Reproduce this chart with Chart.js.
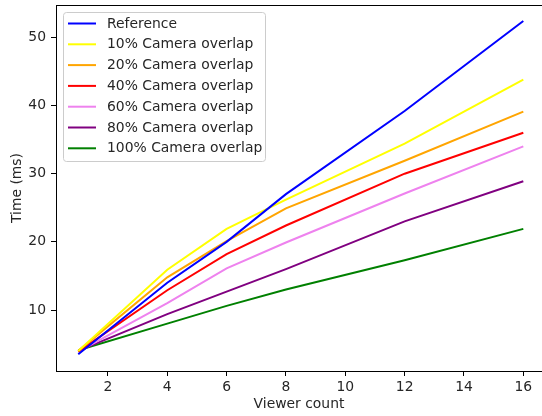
<!DOCTYPE html>
<html>
<head>
<meta charset="utf-8">
<script src="https://cdn.jsdelivr.net/npm/chart.js@4/dist/chart.umd.min.js"></script>
<style>
  html, body { margin: 0; padding: 0; background: #fff; overflow: hidden; }
  canvas { display: block; }
</style>
</head>
<body>
<canvas id="c" width="542" height="416"></canvas>
<script>
const viewers = [1, 4, 6, 8, 12, 16];
const seriesNames = ["Reference", "10% Camera overlap", "20% Camera overlap", "40% Camera overlap",
  "60% Camera overlap", "80% Camera overlap", "100% Camera overlap"];
const seriesColors = ["blue", "yellow", "orange", "red", "violet", "purple", "green"];
const reference = [3.5, 14.0, 20.0, 27.0, 39.2, 52.4];
const overlap10 = [4.0, 15.9, 21.9, 26.2, 34.4, 43.8];
const overlap20 = [4.0, 14.8, 20.1, 24.9, 31.9, 39.1];
const overlap40 = [3.9, 12.9, 18.2, 22.4, 30.0, 36.0];
const overlap60 = [3.9, 11.0, 16.1, 19.9, 27.1, 34.0];
const overlap80 = [4.0, 9.4, 12.7, 16.0, 23.0, 28.9];
const overlap100 = [4.1, 8.0, 10.6, 13.0, 17.3, 21.9];
const xTicks = [2, 4, 6, 8, 10, 12, 14, 16];
const yTicks = [10, 20, 30, 40, 50];

const allSeries = [reference, overlap10, overlap20, overlap40, overlap60, overlap80, overlap100];
const FONT = "'DejaVu Sans', sans-serif";
const TEXT = "#262626";

const frame = {
  id: "frame",
  afterDatasetsDraw(chart) {
    const { ctx, chartArea: a } = chart;
    ctx.save();
    ctx.strokeStyle = "#000";
    ctx.lineWidth = 1;
    ctx.beginPath();
    ctx.moveTo(a.left, a.top + 0.5);
    ctx.lineTo(a.right + 5, a.top + 0.5);
    ctx.stroke();
    ctx.restore();
  },
  afterDraw(chart) {
    const { ctx, chartArea: a } = chart;
    const x0 = a.left + 7, y0 = a.top + 7.5, w = 202, h = 149;
    ctx.save();
    ctx.fillStyle = "rgba(255,255,255,0.8)";
    ctx.strokeStyle = "#cccccc";
    ctx.lineWidth = 1;
    ctx.beginPath();
    ctx.roundRect(x0 + 0.5, y0, w, h, 3);
    ctx.fill();
    ctx.stroke();
    ctx.font = "13.9px " + FONT;
    ctx.textBaseline = "middle";
    chart.data.datasets.forEach((ds, i) => {
      const y = y0 + 11 + i * 20.8;
      ctx.strokeStyle = ds.borderColor;
      ctx.lineWidth = 2;
      ctx.beginPath();
      ctx.moveTo(x0 + 5, y);
      ctx.lineTo(x0 + 33, y);
      ctx.stroke();
      ctx.fillStyle = TEXT;
      ctx.fillText(ds.label, x0 + 44, y + 0.5);
    });
    ctx.restore();
  }
};

new Chart(document.getElementById("c"), {
  type: "line",
  data: {
    datasets: allSeries.map((vals, i) => ({
      label: seriesNames[i],
      data: viewers.map((v, j) => ({ x: v, y: vals[j] })),
      borderColor: seriesColors[i],
      backgroundColor: seriesColors[i],
      borderWidth: 2,
      pointRadius: 0,
      tension: 0,
      fill: false
    }))
  },
  options: {
    responsive: false,
    animation: false,
    layout: { padding: { top: 5, left: 0, right: 0, bottom: 0 } },
    plugins: { legend: { display: false }, tooltip: { enabled: false } },
    scales: {
      x: {
        type: "linear",
        min: 0.25,
        max: 16.63,
        afterBuildTicks: (s) => { s.ticks = xTicks.map(v => ({ value: v })); },
        afterFit: (s) => { s.height = 45; s.paddingLeft = 0; s.paddingRight = 0; },
        grid: { drawOnChartArea: false, drawTicks: true, tickLength: 5, tickColor: "#000" },
        border: { display: true, color: "#000", width: 1 },
        ticks: { color: TEXT, font: { family: FONT, size: 13.9 }, padding: 3, maxRotation: 0 },
        title: { display: true, text: "Viewer count", color: TEXT, font: { family: FONT, size: 13.9 }, padding: { top: 0, bottom: 3 } }
      },
      y: {
        type: "linear",
        min: 1.05,
        max: 54.75,
        afterBuildTicks: (s) => { s.ticks = yTicks.map(v => ({ value: v })); },
        afterFit: (s) => { s.width = 56; s.paddingTop = 0; s.paddingBottom = 0; },
        grid: { drawOnChartArea: false, drawTicks: true, tickLength: 5, tickColor: "#000" },
        border: { display: true, color: "#000", width: 1 },
        ticks: { color: TEXT, font: { family: FONT, size: 13.9 }, padding: 5 },
        title: { display: true, text: "Time (ms)", color: TEXT, font: { family: FONT, size: 13.9 }, padding: { top: 9, bottom: 0 } }
      }
    }
  },
  plugins: [frame]
});
</script>
</body>
</html>
